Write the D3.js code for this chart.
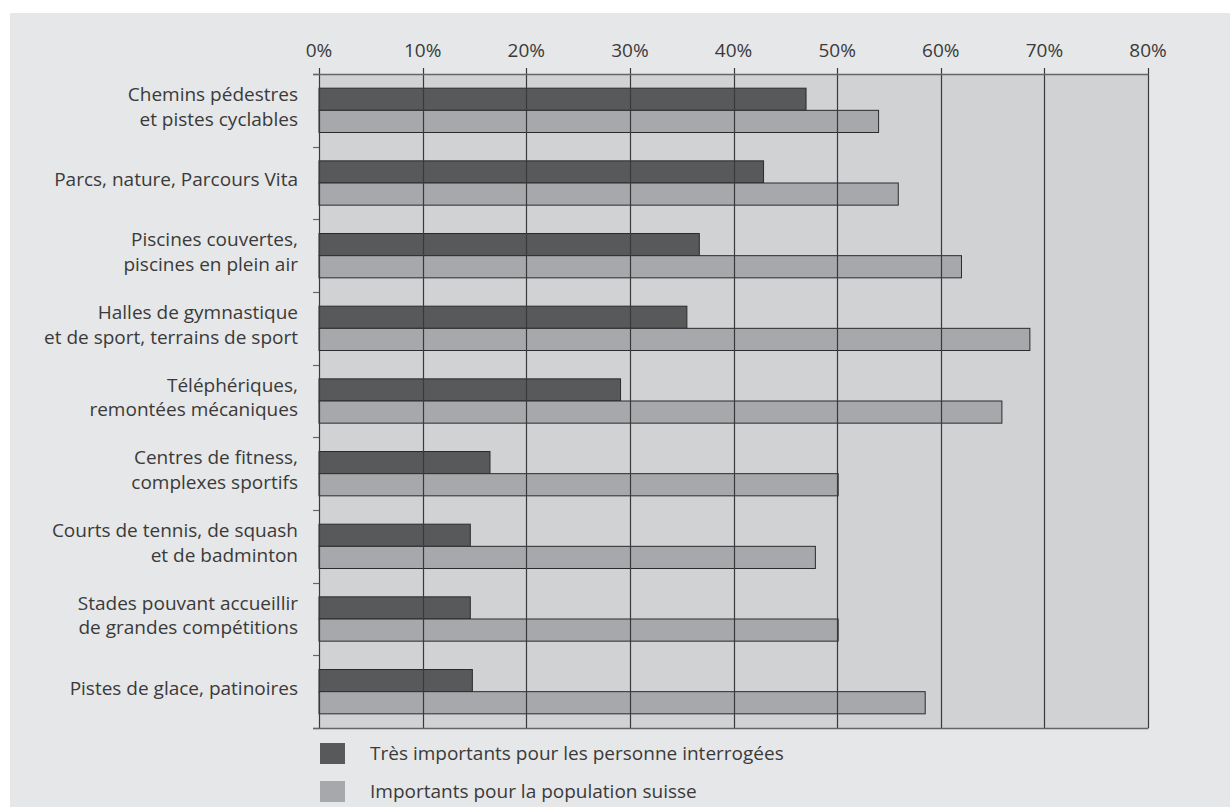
<!DOCTYPE html>
<html>
<head>
<meta charset="utf-8">
<script src="https://cdn.jsdelivr.net/npm/d3@7"></script>
<style>
  body { margin: 0; background: #fff; }
  svg { display: block; }
  text { font-family: "Open Sans", "Noto Sans", sans-serif; fill: #3a3a3a; }
</style>
</head>
<body>
<svg></svg>
<script>
"use strict";

var categories = [
    ["Chemins pédestres", "et pistes cyclables"],
    ["Parcs, nature, Parcours Vita"],
    ["Piscines couvertes,", "piscines en plein air"],
    ["Halles de gymnastique", "et de sport, terrains de sport"],
    ["Téléphériques,", "remontées mécaniques"],
    ["Centres de fitness,", "complexes sportifs"],
    ["Courts de tennis, de squash", "et de badminton"],
    ["Stades pouvant accueillir", "de grandes compétitions"],
    ["Pistes de glace, patinoires"]
];
var seriesNames = ["Très importants pour les personne interrogées", "Importants pour la population suisse"];
var veryImportant = [47.0, 42.9, 36.7, 35.5, 29.1, 16.5, 14.6, 14.6, 14.8];
var important = [54.0, 55.9, 62.0, 68.6, 65.9, 50.1, 47.9, 50.1, 58.5];
var ticks = [0, 10, 20, 30, 40, 50, 60, 70, 80];

var settings = {
    width: 1230,
    height: 807,
    plot: { left: 319, right: 1148, top: 74, bottom: 728 },
    colors: {
        page: '#e6e7e8',
        plot: '#d1d2d4',
        bars: ['#58595b', '#a7a8ab'],
        grid: '#3a3a3a',
        stroke: '#2b2b2b'
    },
    font: 19
};

var rows = categories.map((c, i) => ({ idx: i, label: c, values: [veryImportant[i], important[i]] }));

var svg = d3.select('svg')
    .attr('width', settings.width)
    .attr('height', settings.height);

svg.append('rect')
    .attr('x', 10).attr('y', 13)
    .attr('width', settings.width - 10).attr('height', settings.height - 13)
    .attr('fill', settings.colors.page);

var x = d3.scaleLinear()
    .domain([0, 80])
    .range([settings.plot.left, settings.plot.right]);

var y0 = d3.scaleBand()
    .domain(d3.range(categories.length))
    .range([settings.plot.top, settings.plot.bottom]);

var y1 = d3.scaleBand()
    .domain([0, 1])
    .range([0, y0.bandwidth()])
    .paddingOuter(0.64);

// plot background
svg.append('rect')
    .attr('x', x(0)).attr('y', settings.plot.top)
    .attr('width', x(80) - x(0))
    .attr('height', settings.plot.bottom - settings.plot.top)
    .attr('fill', settings.colors.plot);

// bars
var groups = svg.append('g').attr('class', 'bars')
    .selectAll('g')
    .data(rows)
    .enter()
    .append('g')
    .attr('transform', d => `translate(0,${y0(d.idx)})`);

groups.selectAll('rect')
    .data(d => d.values.map((v, s) => ({ v: v, s: s })))
    .enter()
    .append('rect')
    .attr('x', x(0))
    .attr('y', d => y1(d.s))
    .attr('width', d => x(d.v) - x(0))
    .attr('height', y1.bandwidth())
    .attr('fill', d => settings.colors.bars[d.s])
    .attr('stroke', settings.colors.stroke)
    .attr('stroke-width', 1);

// vertical grid lines (drawn over bars)
svg.append('g').attr('class', 'grid')
    .selectAll('line')
    .data(ticks)
    .enter()
    .append('line')
    .attr('x1', d => Math.round(x(d)) + 0.5)
    .attr('x2', d => Math.round(x(d)) + 0.5)
    .attr('y1', settings.plot.top - 6)
    .attr('y2', settings.plot.bottom)
    .attr('stroke', settings.colors.grid)
    .attr('stroke-width', 1.2);

// top and bottom frame lines
svg.append('g')
    .selectAll('line')
    .data([settings.plot.top, settings.plot.bottom])
    .enter()
    .append('line')
    .attr('x1', x(0) - 6)
    .attr('x2', x(80) + 0.5)
    .attr('y1', d => d + 0.5)
    .attr('y2', d => d + 0.5)
    .attr('stroke', '#666')
    .attr('stroke-width', 1.5);

// left ticks at band boundaries
svg.append('g')
    .selectAll('line')
    .data(d3.range(categories.length + 1))
    .enter()
    .append('line')
    .attr('x1', x(0) - 6)
    .attr('x2', x(0))
    .attr('y1', d => Math.round(settings.plot.top + d * y0.step()) + 0.5)
    .attr('y2', d => Math.round(settings.plot.top + d * y0.step()) + 0.5)
    .attr('stroke', '#666')
    .attr('stroke-width', 1.2);

// top axis labels
svg.append('g')
    .selectAll('text')
    .data(ticks)
    .enter()
    .append('text')
    .attr('x', d => x(d))
    .attr('y', 57)
    .attr('text-anchor', 'middle')
    .style('font-size', settings.font + 'px')
    .text(d => d + '%');

// category labels
var lineH = 24.5;
var labels = svg.append('g')
    .selectAll('text')
    .data(rows)
    .enter()
    .append('text')
    .attr('text-anchor', 'end')
    .style('font-size', settings.font + 'px')
    .attr('transform', d => `translate(298,${y0(d.idx) + y0.bandwidth() / 2 + 6 - (d.label.length - 1) * lineH / 2 - 3})`);

labels.selectAll('tspan')
    .data(d => d.label)
    .enter()
    .append('tspan')
    .attr('x', 0)
    .attr('y', (d, i) => i * lineH)
    .text(d => d);

// legend
var legend = svg.append('g')
    .selectAll('g')
    .data(seriesNames)
    .enter()
    .append('g')
    .attr('transform', (d, i) => `translate(320,${743 + i * 38})`);

legend.append('rect')
    .attr('width', 25)
    .attr('height', 21)
    .attr('fill', (d, i) => settings.colors.bars[i]);

legend.append('text')
    .attr('x', 50)
    .attr('y', 17)
    .style('font-size', settings.font + 'px')
    .text(d => d);
</script>
</body>
</html>
